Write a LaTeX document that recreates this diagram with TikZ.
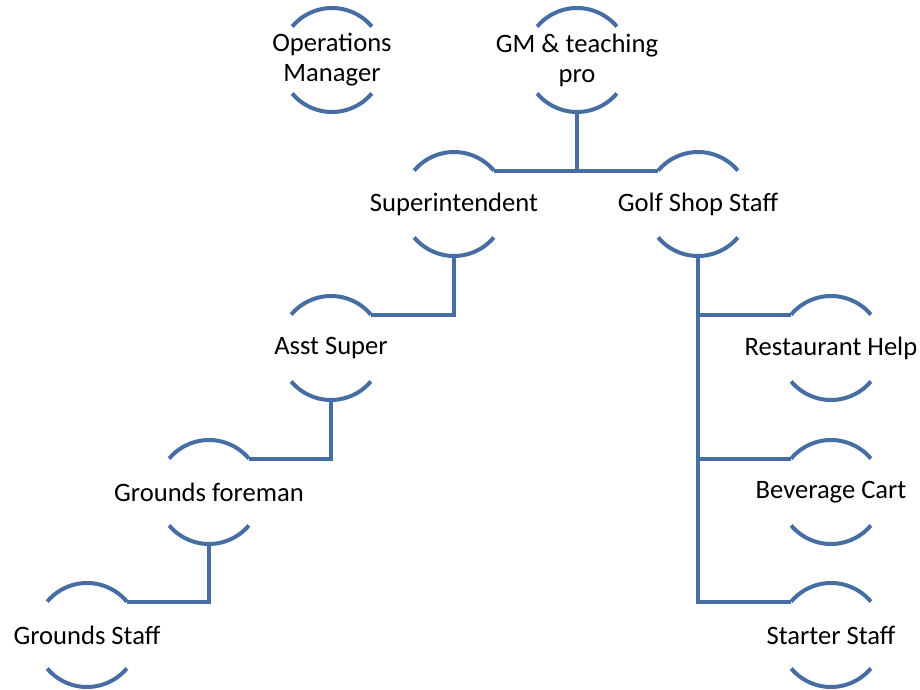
\documentclass[tikz,border=0pt]{standalone}
\usepackage{fontspec}
\setmainfont{Carlito}
\definecolor{ringblue}{RGB}{70,110,163}
\begin{document}
\begin{tikzpicture}[x=1pt,y=-1pt,
  ring/.style={circle, minimum size=104pt, inner sep=0pt, outer sep=0pt, draw=none},
  ringtext/.style={align=center, inner sep=0pt, font=\fontsize{26.6}{30}\selectfont},
  arcline/.style={draw=ringblue, line width=4pt},
  link/.style={draw=ringblue, line width=4pt}]
\useasboundingbox (0,0) rectangle (920,690);

% ring positions
\node[ring] (ops) at (332,60) {};
\node[ring] (gm)  at (577,60) {};
\node[ring] (sup) at (454,204) {};
\node[ring] (gss) at (698,204) {};
\node[ring] (asst) at (331,348) {};
\node[ring] (fore) at (209,492) {};
\node[ring] (gst) at (87,635) {};
\node[ring] (rest) at (831,348) {};
\node[ring] (bev) at (831,492) {};
\node[ring] (start) at (831,635) {};

% labels
\node[ringtext] (opsT) at (ops.center) {Operations\\Manager};
\node[ringtext] (gmT) at (gm.center) {GM \& teaching\\pro};
\node[ringtext] (supT) at (sup.center) {Superintendent};
\node[ringtext] (gssT) at (gss.center) {Golf Shop Staff};
\node[ringtext] (asstT) at (asst.center) {Asst Super};
\node[ringtext] (foreT) at (fore.center) {Grounds foreman};
\node[ringtext] (gstT) at (gst.center) {Grounds Staff};
\node[ringtext] (restT) at (rest.center) {Restaurant Help};
\node[ringtext] (bevT) at (bev.center) {Beverage Cart};
\node[ringtext] (startT) at (start.center) {Starter Staff};

% upper and lower arcs of each ring
\foreach \n in {ops,gm,sup,gss,asst,fore,gst,rest,bev,start}{
  \draw[arcline] (\n.40) arc[start angle=40, end angle=140, radius=52pt];
  \draw[arcline] (\n.220) arc[start angle=220, end angle=320, radius=52pt];
}

% reporting lines
\draw[link] (sup.40) -- (gss.140);
\draw[link] (gm.south) -- (gm.south |- sup.40);
\draw[link] (sup.south) |- (asst.40);
\draw[link] (asst.south) |- (fore.40);
\draw[link] (fore.south) |- (gst.40);
\draw[link] (gss.south) |- (start.140);
\draw[link] (gss.south |- rest.140) -- (rest.140);
\draw[link] (gss.south |- bev.140) -- (bev.140);
\end{tikzpicture}
\end{document}
